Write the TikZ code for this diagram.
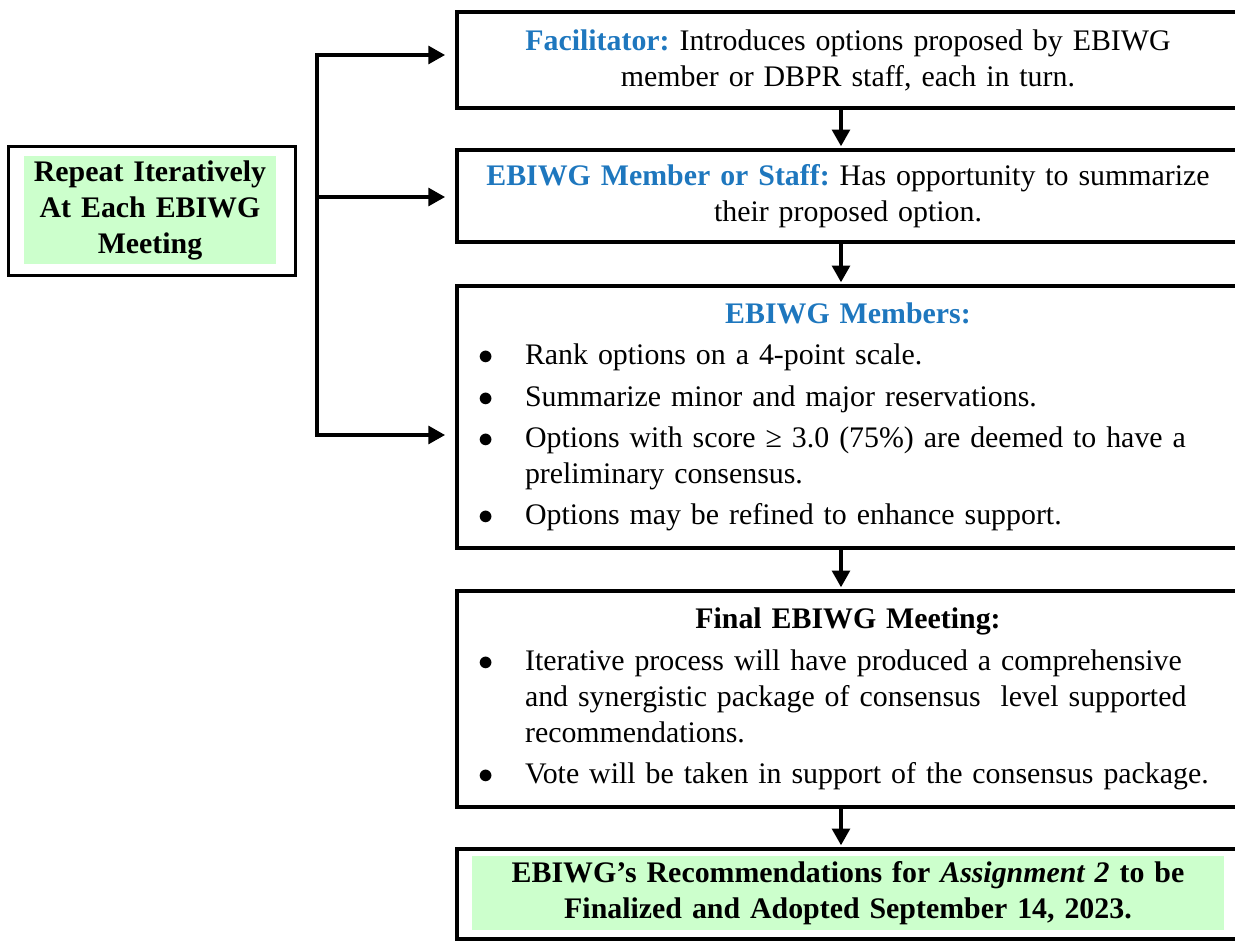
\documentclass[tikz,border=0pt]{standalone}
\usepackage{fontspec}
\setmainfont{Liberation Serif}
\usetikzlibrary{arrows.meta}

\definecolor{ebiblue}{RGB}{30,119,190}
\definecolor{ebigreen}{RGB}{204,255,204}
\newcommand{\boxfont}{\fontsize{17pt}{20.5pt}\selectfont\setlength{\parskip}{3pt}\frenchspacing}
\newcommand{\bitem}{\par\noindent\hangindent=25.6pt\hangafter=1\makebox[25.6pt][l]{\hspace{-1pt}$\bullet$}}

\begin{document}
\begin{tikzpicture}[x=0.02cm,y=-0.02cm,
  box/.style={draw,line width=2.2pt,minimum width=15.64cm,text width=14.72cm,inner xsep=0.46cm,font=\boxfont},
  greenbox/.style={fill=ebigreen,inner sep=0pt,align=center,font=\boxfont\bfseries},
  link/.style={line width=2.2pt},
  tip/.style={-{Triangle[length=9.5pt,width=10pt]}}]
  \path[use as bounding box] (0,0) rectangle (1235,943);

  \node[box,align=center,minimum height=1.92cm] (facilitator) at (848,60)
    {\textcolor{ebiblue}{\bfseries Facilitator:} Introduces options proposed by EBIWG\\member or DBPR staff, each in turn.};
  \node[box,align=center,minimum height=1.84cm] (member) at (848,196)
    {\textcolor{ebiblue}{\bfseries EBIWG Member or Staff:} Has opportunity to summarize\\their proposed option.};
  \node[box,align=left,minimum height=5.24cm] (members) at (848,417)
    {\centerline{\bfseries\color{ebiblue}EBIWG Members:}
     \bitem Rank options on a 4-point scale.
     \bitem Summarize minor and major reservations.
     \bitem Options with score ≥ 3.0 (75\%) are deemed to have a preliminary consensus.
     \bitem Options may be refined to enhance support.};
  \node[box,align=left,minimum height=4.32cm] (final) at (848,699)
    {\centerline{\bfseries Final EBIWG Meeting:}
     \bitem Iterative process will have produced a comprehensive and synergistic package of consensus\ \ level supported recommendations.
     \bitem Vote will be taken in support of the consensus package.};
  \node[box,minimum height=1.80cm] (adopted) at (848,894) {};
  \node[greenbox,minimum width=15.06cm,minimum height=1.48cm,text width=15.06cm] (adopted text) at (848,893)
    {EBIWG’s Recommendations for \textit{Assignment 2} to be\\Finalized and Adopted September 14, 2023.};

  \node[draw,line width=2.2pt,minimum width=5.74cm,minimum height=2.58cm] (repeat) at (152,211) {};
  \node[greenbox,minimum width=5.06cm,minimum height=2.16cm,text width=5.06cm] (repeat text) at (150,210)
    {Repeat Iteratively\\At Each EBIWG\\Meeting};

  \coordinate (spine top) at (317,55);
  \coordinate (spine mid) at (317,197);
  \coordinate (spine bottom) at (317,435);
  \coordinate (down x) at (841,0);

  \draw[link,{Triangle[length=9.5pt,width=10pt]}-{Triangle[length=9.5pt,width=10pt]},shorten <=5.7pt,shorten >=5.7pt]
    (spine top -| facilitator.west) -- (spine top) -- (spine bottom) -- (spine bottom -| members.west);
  \draw[link,tip,shorten >=5.7pt] (spine mid) -- (spine mid -| member.west);

  \draw[link,tip,shorten >=1pt] (facilitator.south -| down x) -- (member.north -| down x);
  \draw[link,tip,shorten >=1pt] (member.south -| down x) -- (members.north -| down x);
  \draw[link,tip,shorten >=1pt] (members.south -| down x) -- (final.north -| down x);
  \draw[link,tip,shorten >=1pt] (final.south -| down x) -- (adopted.north -| down x);
\end{tikzpicture}
\end{document}
